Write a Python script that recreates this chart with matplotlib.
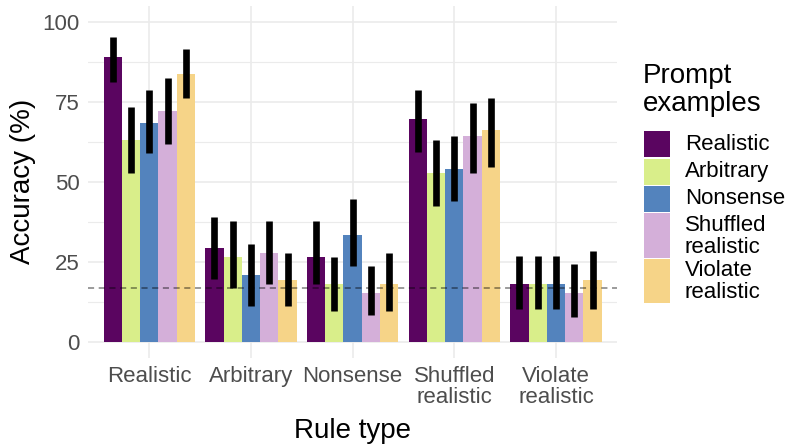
import matplotlib
matplotlib.use("Agg")
import matplotlib.pyplot as plt
import numpy as np
from matplotlib.patches import Rectangle
from matplotlib.ticker import MultipleLocator

plt.rcParams['font.family'] = ['Liberation Sans', 'DejaVu Sans']

rule_types = ["Realistic", "Arbitrary", "Nonsense", "Shuffled\nrealistic", "Violate\nrealistic"]
prompt_examples = ["Realistic", "Arbitrary", "Nonsense", "Shuffled\nrealistic", "Violate\nrealistic"]
colors = ["#5A0560", "#D9EE8A", "#5383BD", "#D4AFD9", "#F6D488"]

# accuracy[prompt][rule]
acc_realistic = [88.9, 29.3, 26.5, 69.6, 18.0]
acc_arbitrary = [63.0, 26.5, 18.0, 52.7, 18.0]
acc_nonsense = [68.3, 20.8, 33.3, 54.0, 18.0]
acc_shuffled = [72.0, 27.7, 15.2, 64.3, 15.2]
acc_violate = [83.6, 19.3, 18.0, 66.1, 19.3]

lo_realistic = [81.2, 19.5, 18.1, 59.4, 10.2]
lo_arbitrary = [52.8, 16.8, 9.7, 42.5, 10.2]
lo_nonsense = [59.1, 11.2, 23.6, 43.9, 10.2]
lo_shuffled = [61.8, 18.0, 8.4, 52.8, 7.8]
lo_violate = [76.1, 11.2, 9.7, 54.6, 10.2]

hi_realistic = [95.3, 38.9, 37.6, 78.6, 26.9]
hi_arbitrary = [73.5, 37.6, 26.4, 63.0, 26.9]
hi_nonsense = [78.7, 30.5, 44.5, 64.4, 26.9]
hi_shuffled = [82.4, 37.6, 23.6, 74.7, 24.3]
hi_violate = [91.5, 27.7, 27.7, 76.3, 28.3]

chance = 100 / 6

accs = [acc_realistic, acc_arbitrary, acc_nonsense, acc_shuffled, acc_violate]
los = [lo_realistic, lo_arbitrary, lo_nonsense, lo_shuffled, lo_violate]
his = [hi_realistic, hi_arbitrary, hi_nonsense, hi_shuffled, hi_violate]

W, H = 785, 445
fig = plt.figure(figsize=(W / 100, H / 100), dpi=100)
pl, pr, pt, pb = 88.3, 617, 5.7, 357.7
ax = fig.add_axes([pl / W, 1 - pb / H, (pr - pl) / W, (pb - pt) / H])

n = len(prompt_examples)
x = np.arange(1, len(rule_types) + 1)
bw = 0.9 / n
for i in range(n):
    xs = x - 0.45 + bw * (i + 0.5)
    ax.bar(xs, accs[i], width=bw, color=colors[i], zorder=2, linewidth=0)
    ax.vlines(xs, los[i], his[i], color="black", linewidth=4.8, zorder=3, capstyle='butt')

ax.axhline(chance, color="black", alpha=0.5, linewidth=1.1, linestyle=(0, (4, 3)), zorder=4)

ax.set_xlim(0.4, len(rule_types) + 0.6)
ax.set_ylim(-5, 105)
ax.set_xticks(x)
ax.set_xticklabels(rule_types, linespacing=1.0)
ax.yaxis.set_major_locator(MultipleLocator(25))
ax.yaxis.set_minor_locator(MultipleLocator(12.5))
ax.set_yticks([0, 25, 50, 75, 100])
ax.tick_params(axis='both', which='both', length=0, labelsize=16, labelcolor="#4D4D4D")
ax.tick_params(axis='x', pad=6)
ax.tick_params(axis='y', pad=6)
ax.grid(True, which='major', color="#EBEBEB", linewidth=1.2, zorder=0)
ax.grid(True, which='minor', axis='y', color="#EBEBEB", linewidth=0.8, zorder=0)
ax.set_axisbelow(True)
for s in ax.spines.values():
    s.set_visible(False)

fig.text(352.7 / W, 1 - 431 / H, "Rule type", ha='center', va='center', fontsize=20)
fig.text(23 / W, 1 - 181.7 / H, "Accuracy (%)", ha='center', va='center', fontsize=20, rotation=90)

# legend
fig.text(643 / W, 1 - 76 / H, "Prompt", ha='left', va='center', fontsize=20)
fig.text(643 / W, 1 - 104 / H, "examples", ha='left', va='center', fontsize=20)
ytop = 131
for i, lab in enumerate(prompt_examples):
    lines = lab.split("\n")
    h = 26 if len(lines) == 1 else 44
    fig.patches.append(Rectangle((644 / W, 1 - (ytop + h) / H), 26 / W, h / H,
                                 transform=fig.transFigure, color=colors[i], linewidth=0))
    yc = ytop + h / 2
    if len(lines) == 1:
        fig.text(685 / W, 1 - yc / H, lines[0], ha='left', va='center', fontsize=16)
    else:
        fig.text(685 / W, 1 - (yc - 10) / H, lines[0], ha='left', va='center', fontsize=16)
        fig.text(685 / W, 1 - (yc + 12) / H, lines[1], ha='left', va='center', fontsize=16)
    ytop += h + 1.5

fig.savefig("out.png", dpi=100)
